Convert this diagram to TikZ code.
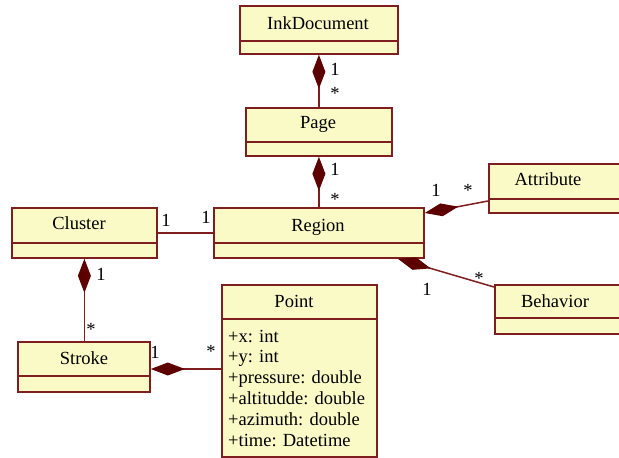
\documentclass[tikz,border=0pt]{standalone}
\usepackage{fontspec}
\setmainfont{Liberation Serif}
\usetikzlibrary{arrows.meta}
\definecolor{umlfill}{HTML}{FAFAC6}
\definecolor{umlline}{HTML}{7E1E1E}
\definecolor{umldmd}{HTML}{5C0000}
\begin{document}
\begin{tikzpicture}[x=1pt,y=-1pt,
  txt/.style={font=\fontsize{18.5}{20.8}\selectfont, inner sep=0pt, anchor=base},
  classbox/.style={draw=umlline, fill=umlfill, line width=1.8pt, inner sep=0pt, anchor=north west},
  link/.style={draw=umlline, line width=1.5pt},
  comp/.style={link, {Diamond[length=34pt,width=13pt,color=umldmd,fill=umldmd]}-},
  mult/.style={txt}]
\useasboundingbox (0,0) rectangle (619,458);
\clip (0,0) rectangle (619,458);

% class boxes: name compartment + attribute compartment
\node[classbox, minimum width=158pt, minimum height=48pt] (ink) at (239,5) {};
\draw[umlline, line width=1.8pt] (ink.west |- 0,41) -- (ink.east |- 0,41);
\node[txt] (inkT) at (318,29) {InkDocument};

\node[classbox, minimum width=146pt, minimum height=48pt] (page) at (245,107) {};
\draw[umlline, line width=1.8pt] (page.west |- 0,142) -- (page.east |- 0,142);
\node[txt] (pageT) at (318,128) {Page};

\node[classbox, minimum width=210pt, minimum height=50pt] (region) at (213,207) {};
\draw[umlline, line width=1.8pt] (region.west |- 0,243) -- (region.east |- 0,243);
\node[txt] (regionT) at (318,231) {Region};

\node[classbox, minimum width=145pt, minimum height=49pt] (attr) at (488,163) {};
\draw[umlline, line width=1.8pt] (attr.west |- 0,199) -- (attr.east |- 0,199);
\node[txt] (attrT) at (548,185) {Attribute};

\node[classbox, minimum width=140pt, minimum height=49pt] (behav) at (494,284) {};
\draw[umlline, line width=1.8pt] (behav.west |- 0,318) -- (behav.east |- 0,318);
\node[txt] (behavT) at (555,307) {Behavior};

\node[classbox, minimum width=145pt, minimum height=50pt] (cluster) at (11,207) {};
\draw[umlline, line width=1.8pt] (cluster.west |- 0,243) -- (cluster.east |- 0,243);
\node[txt] (clusterT) at (79,229) {Cluster};

\node[classbox, minimum width=132pt, minimum height=50pt] (stroke) at (17,341) {};
\draw[umlline, line width=1.8pt] (stroke.west |- 0,376) -- (stroke.east |- 0,376);
\node[txt] (strokeT) at (84,364) {Stroke};

\node[classbox, minimum width=155pt, minimum height=172pt] (point) at (221,284) {};
\draw[umlline, line width=1.8pt] (point.west |- 0,319) -- (point.east |- 0,319);
\node[txt] (pointT) at (294,307) {Point};
\foreach \t [count=\i] in {{+x: int},{+y: int},{+pressure: double},{+altitudde: double},{+azimuth: double},{+time: Datetime}}
  \node[txt, anchor=base west] (pa\i) at (228,{342+20.8*(\i-1)}) {\t};

% associations
\draw[comp] (ink.south) -- (page.north);
\node[mult] (m1a) at (335,75) {1};
\node[mult] (m1b) at (335,99) {*};

\draw[comp] (page.south) -- (region.north);
\node[mult] (m2a) at (335,175) {1};
\node[mult] (m2b) at (335,205) {*};

\draw[link] (cluster.east |- 0,233) -- (region.west |- 0,233);
\node[mult] (m3a) at (166,226) {1};
\node[mult] (m3b) at (206,223) {1};

\draw[comp] (region.east |- 0,213) -- (attr.west |- 0,201);
\node[mult] (m4a) at (436,196) {1};
\node[mult] (m4b) at (468,196) {*};

\draw[comp] (region.south -| 398,0) -- (behav.west |- 0,287);
\node[mult] (m5a) at (427,295) {1};
\node[mult] (m5b) at (479,284) {*};

\draw[comp] (cluster.south) -- (cluster.south |- stroke.north);
\node[mult] (m6a) at (101,280) {1};
\node[mult] (m6b) at (91,335) {*};

\draw[comp] (stroke.east |- 0,369) -- (point.west |- 0,369);
\node[mult] (m7a) at (155,358) {1};
\node[mult] (m7b) at (211,357) {*};
\end{tikzpicture}
\end{document}
